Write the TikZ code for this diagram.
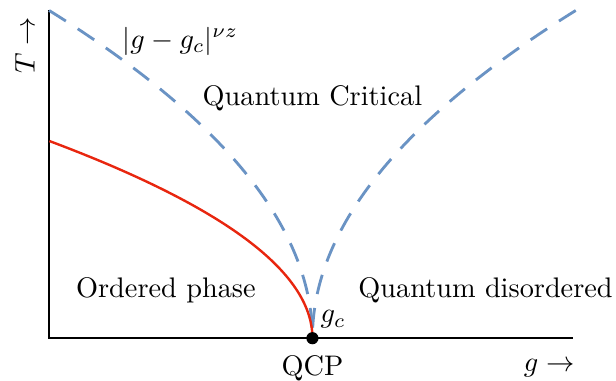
\documentclass[tikz,border=0pt]{standalone}
\usepackage{amsmath,amssymb}
\usepackage{tikz}
\definecolor{PhaseRed}{HTML}{E8260F}
\definecolor{CrossoverBlue}{HTML}{6A93C4}
\definecolor{AxisBlack}{HTML}{000000}

\begin{document}
\begin{tikzpicture}
      \useasboundingbox (-0.61,-0.53) rectangle (7.04,4.20);
      \coordinate (origin) at (0,0);
      \coordinate (tmax) at (0,4.07);
      \coordinate (gmax) at (6.50,0);
      \coordinate (gc) at (3.27,0);
      \draw[AxisBlack,line width=0.9pt] (tmax) -- (origin) -- (gmax);
      \draw[CrossoverBlue,line width=1pt,dash pattern=on 7pt off 5pt] plot[domain=1:0,samples=80,variable=\t] ({3.27*(1-\t*\t)},{4.07*\t});
      \draw[CrossoverBlue,line width=1pt,dash pattern=on 7pt off 5pt] plot[domain=1:0,samples=80,variable=\t] ({3.27*(1+\t*\t)},{4.07*\t});
      \draw[PhaseRed,line width=0.85pt] plot[domain=0:1,samples=80,variable=\t] ({3.27*(1-\t*\t)},{2.45*\t});
      \node[circle,fill=AxisBlack,inner sep=0pt,minimum size=4.3pt] (qcp) at (gc) {};
      \node (qcplabel) at (3.27,-0.37) {QCP};
      \node[anchor=south west,inner sep=1pt] (gclabel) at (3.33,0.08) {$g_c$};
      \node (glabel) at (6.21,-0.37) {$g \rightarrow$};
      \node[rotate=90] (tlabel) at (-0.30,3.64) {$T \rightarrow$};
      \node (scaling) at (1.63,3.69) {$|g-g_c|^{\nu z}$};
      \node (critical) at (3.27,2.98) {Quantum Critical};
      \node (ordered) at (1.45,0.60) {Ordered phase};
      \node (disordered) at (5.42,0.60) {Quantum disordered};
    \end{tikzpicture}
\end{document}
